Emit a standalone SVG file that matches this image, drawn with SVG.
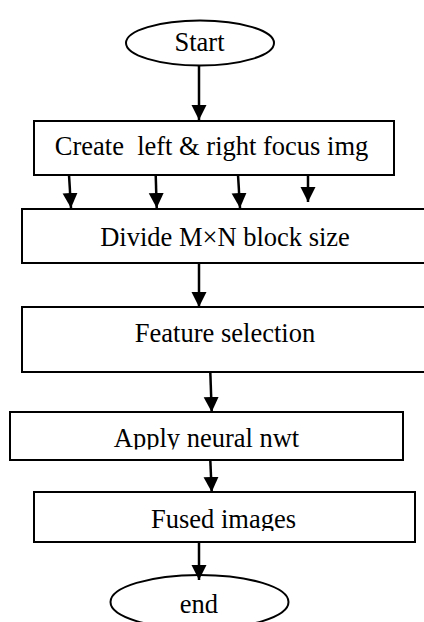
<svg xmlns="http://www.w3.org/2000/svg" width="424" height="622" viewBox="0 0 424 622">
<style>
.box{fill:#fff;stroke:#000;stroke-width:2}
.lbl{font-family:"Liberation Serif","Times New Roman",serif;font-size:26.5px;fill:#000;text-anchor:middle}
.conn{stroke:#000;stroke-width:2.5;fill:none}
</style>
<defs>
<marker id="ah" markerUnits="userSpaceOnUse" markerWidth="16" markerHeight="16" viewBox="0 0 16 16" refX="15" refY="8" orient="auto">
<path d="M0,0.5 L15,8 L0,15.5 Z" fill="#000"/>
</marker>
<clipPath id="cApply"><rect x="0" y="412" width="424" height="37.5"/></clipPath>
<clipPath id="cFused"><rect x="0" y="492" width="424" height="39"/></clipPath>
<clipPath id="cEnd"><rect x="0" y="576" width="424" height="38.5"/></clipPath>
</defs>
<g id="start">
<ellipse class="box" cx="200" cy="43" rx="74" ry="22.5"/>
<text class="lbl" x="199.5" y="51">Start</text>
</g>
<g id="create">
<rect class="box" x="34" y="121" width="360" height="54"/>
<text class="lbl" x="211.5" y="155" xml:space="preserve">Create  left &amp; right focus img</text>
</g>
<g id="divide">
<rect class="box" x="22" y="209" width="420" height="54"/>
<text class="lbl" x="225" y="246">Divide M×N block size</text>
</g>
<g id="feature">
<rect class="box" x="22" y="307" width="420" height="65"/>
<text class="lbl" x="225" y="342">Feature selection</text>
</g>
<g id="apply">
<rect class="box" x="10" y="412" width="393" height="48"/>
<text class="lbl" x="206.5" y="447" clip-path="url(#cApply)">Apply neural nwt</text>
</g>
<g id="fused">
<rect class="box" x="34" y="492" width="381" height="50"/>
<text class="lbl" x="223.5" y="528" clip-path="url(#cFused)">Fused images</text>
</g>
<g id="end">
<ellipse class="box" cx="199.5" cy="602" rx="89" ry="27"/>
<text class="lbl" x="199" y="613" clip-path="url(#cEnd)">end</text>
</g>
<g id="connectors">
<line class="conn" x1="199" y1="65.5" x2="199" y2="120" marker-end="url(#ah)"/>
<line class="conn" x1="69" y1="175" x2="71" y2="208" marker-end="url(#ah)"/>
<line class="conn" x1="155.7" y1="175" x2="156.7" y2="208" marker-end="url(#ah)"/>
<line class="conn" x1="238" y1="175" x2="240" y2="208" marker-end="url(#ah)"/>
<line class="conn" x1="308" y1="175" x2="308" y2="202" marker-end="url(#ah)"/>
<line class="conn" x1="199" y1="263" x2="199" y2="307" marker-end="url(#ah)"/>
<line class="conn" x1="210.3" y1="372" x2="211.7" y2="412" marker-end="url(#ah)"/>
<line class="conn" x1="210.3" y1="460" x2="211.7" y2="492" marker-end="url(#ah)"/>
<line class="conn" x1="199" y1="542" x2="199" y2="580" marker-end="url(#ah)"/>
</g>
</svg>
